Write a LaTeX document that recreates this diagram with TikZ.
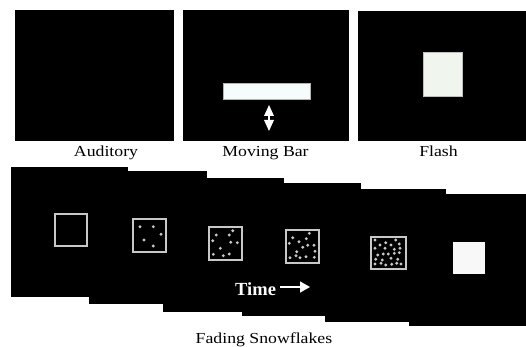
\documentclass[tikz,border=0pt]{standalone}
\usepackage{fontspec}
\usepackage{graphicx}
\setmainfont{Liberation Serif}
\usetikzlibrary{arrows.meta}
\newcommand\stretchtxt[1]{\scalebox{1.16}[1]{#1}}
\definecolor{outl}{RGB}{200,200,200}
\definecolor{dotc}{RGB}{200,200,200}
\definecolor{barc}{RGB}{246,251,252}
\definecolor{flashc}{RGB}{240,246,238}
\definecolor{snowc}{RGB}{248,248,248}
\begin{document}
\begin{tikzpicture}[x=1pt,y=-1pt,
  panel/.style={fill=black},
  lbl/.style={font=\fontsize{15.3}{18}\selectfont, anchor=base, inner sep=0pt},
  sqbox/.style={draw=outl, line width=1.4pt},
  dotf/.style={fill=dotc},
  timelbl/.style={font=\fontsize{18.5}{20}\selectfont\bfseries, text=white, anchor=base west, inner sep=0pt}]
\useasboundingbox (0,0) rectangle (526,347);
\fill[white] (0,0) rectangle (526,347);
% top panels
\fill[panel] (15,10) rectangle (174,141);
\fill[panel] (183,10) rectangle (349,141);
\fill[panel] (358,11) rectangle (526,141);
% moving bar
\fill[barc, draw=gray!60, line width=0.4pt] (223,83) rectangle (310,99);
\fill[white] (264,116) -- (274,116) -- (269,105) -- cycle;
\fill[white] (264,120) -- (274,120) -- (269,131) -- cycle;
\fill[white] (268.2,115) rectangle (269.8,121);
% flash
\fill[flashc, draw=gray!50, line width=0.4pt] (423,52) rectangle (462,96);
% labels
\node[lbl] (aud) at (106,156.8) {\stretchtxt{Auditory}};
\node[lbl] (mov) at (265.5,156.8) {\stretchtxt{Moving Bar}};
\node[lbl] (fla) at (438.5,156.8) {\stretchtxt{Flash}};
% bottom frames
\fill[panel] (409,194) rectangle (526,326);
\fill[panel] (325,189) rectangle (446,322);
\fill[panel] (242,183) rectangle (361,316);
\fill[panel] (163,178) rectangle (284,312);
\fill[panel] (89,171) rectangle (207,304);
\fill[panel] (11,167) rectangle (128,297);
% squares
\draw[sqbox] (55,214) rectangle (87,246);
\draw[sqbox] (133,219) rectangle (166,252);
\draw[sqbox] (209,227) rectangle (242,260);
\draw[sqbox] (286,230) rectangle (319,263);
\draw[sqbox] (371,237) rectangle (406,269);
\fill[snowc] (453,242) rectangle (485,274);
% dots
\foreach \p in {(140,226.7),(153.3,226.7),(161,234.3),(144,240),(153.3,246)}
  \fill[dotf] \p circle[radius=1.6pt];
\foreach \p in {(216.3,235),(229.3,235),(232.7,230.7),(212.7,240.7),(230.7,242.3),(237.3,242.7),(220.3,248.3),(213.3,254.3),(223.3,255.7),(229.3,254)}
  \fill[dotf] \p circle[radius=1.6pt];
\foreach \p in {(309.3,233.3),(292.7,237.7),(299,241.7),(306.3,238.7),(289.3,243.3),(302.7,247.3),(307.7,245.3),(314,245.3),(296.7,251.7),(315,251.3),(296,255.7),(290,257.7),(300,257.7),(306,256.7),(314.3,257.3)}
  \fill[dotf] \p circle[radius=1.6pt];
\foreach \p in {(375,240),(395.7,240),(380,245),(385.7,242.7),(391,245),(399.3,244),(375,248.3),(385,248.3),(394.3,249.3),(400,248.3),(377.7,255),(383.3,254),(388.3,254),(394.3,253.3),(399.3,252.7),(375.7,259.3),(382.3,260),(391,258.3),(397.7,259.3),(375,264),(381,263.3),(385.7,265),(391.7,264.3),(396.7,263.3),(401,264)}
  \fill[dotf] \p circle[radius=1.6pt];
% time
\node[timelbl] (time) at (235,295) {Time};
\coordinate (tend) at (310,287);
\draw[white, line width=1.4pt, -{Triangle[width=11pt,length=10pt]}] ([xshift=4pt]time.east |- tend) -- (tend);
\node[lbl] (fad) at (264,343.1) {\stretchtxt{Fading Snowflakes}};
\end{tikzpicture}
\end{document}
